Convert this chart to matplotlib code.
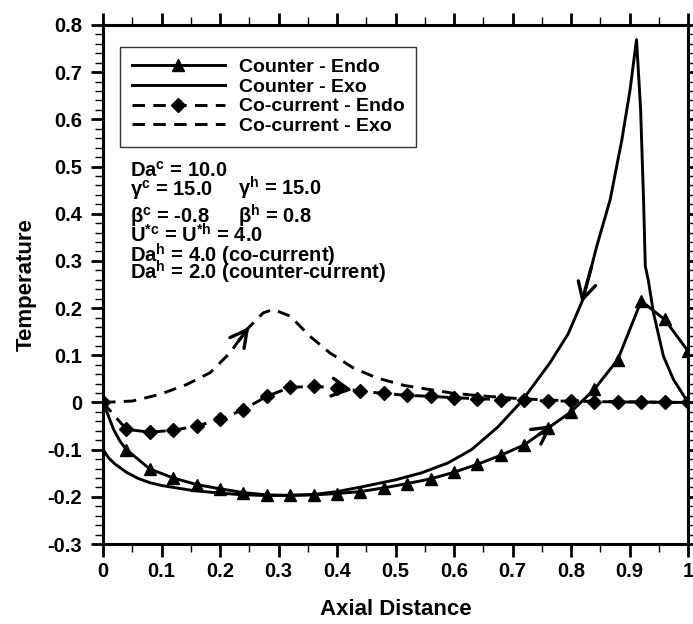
import numpy as np
import matplotlib
matplotlib.use("Agg")
import matplotlib.pyplot as plt
from matplotlib.ticker import MultipleLocator, FuncFormatter

plt.rcParams['font.family'] = ['Liberation Sans', 'DejaVu Sans']
plt.rcParams['font.weight'] = 'bold'
plt.rcParams['mathtext.fontset'] = 'custom'
plt.rcParams['mathtext.rm'] = 'Liberation Sans:bold'
plt.rcParams['mathtext.it'] = 'Liberation Sans:bold'
plt.rcParams['mathtext.bf'] = 'Liberation Sans:bold'
plt.rcParams['lines.scale_dashes'] = False

# ---- data -------------------------------------------------------------
# Counter-current, endothermic (solid with triangles)
counter_endo_x = [0.0, 0.005, 0.018, 0.029, 0.04, 0.08, 0.12, 0.16, 0.20, 0.24,
                  0.28, 0.32, 0.36, 0.40, 0.44, 0.48, 0.52, 0.56, 0.60, 0.64,
                  0.68, 0.72, 0.76, 0.80, 0.84, 0.88, 0.92, 0.96, 1.00]
counter_endo_y = [0.0, -0.015, -0.057, -0.082, -0.100, -0.141, -0.160, -0.174, -0.183, -0.191,
                  -0.196, -0.197, -0.196, -0.193, -0.189, -0.181, -0.172, -0.162, -0.148, -0.131,
                  -0.112, -0.090, -0.055, -0.020, 0.028, 0.091, 0.215, 0.176, 0.109]

# Counter-current, exothermic (solid)
counter_exo_x = [0.000, 0.010, 0.020, 0.040, 0.060, 0.080, 0.100, 0.125, 0.150, 0.190,
                 0.230, 0.270, 0.310, 0.360, 0.400, 0.450, 0.500, 0.545, 0.590, 0.630,
                 0.675, 0.716, 0.764, 0.795, 0.821, 0.844, 0.867, 0.887, 0.901, 0.912,
                 0.919, 0.924, 0.927, 0.932, 0.941, 0.958, 0.975, 1.000]
counter_exo_y = [-0.100, -0.118, -0.130, -0.148, -0.161, -0.170, -0.176, -0.181, -0.186, -0.191,
                 -0.195, -0.197, -0.197, -0.195, -0.189, -0.177, -0.164, -0.149, -0.128, -0.100,
                 -0.052, 0.003, 0.084, 0.145, 0.220, 0.331, 0.430, 0.557, 0.663, 0.769,
                 0.621, 0.430, 0.289, 0.260, 0.190, 0.098, 0.049, 0.000]

# Co-current, endothermic (dashed with diamonds)
co_endo_x = [0.00, 0.04, 0.08, 0.12, 0.16, 0.20, 0.24, 0.28, 0.32, 0.36, 0.40, 0.44, 0.48,
             0.52, 0.56, 0.60, 0.64, 0.68, 0.72, 0.76, 0.80, 0.84, 0.88, 0.92, 0.96, 1.00]
co_endo_y = [0.000, -0.057, -0.063, -0.059, -0.050, -0.036, -0.015, 0.013, 0.032, 0.034,
             0.031, 0.024, 0.019, 0.015, 0.013, 0.010, 0.008, 0.006, 0.005, 0.003,
             0.003, 0.002, 0.001, 0.001, 0.000, 0.000]

# Co-current, exothermic (dashed)
co_exo_x = [0.000, 0.050, 0.097, 0.143, 0.183, 0.217, 0.246, 0.274, 0.291, 0.320,
            0.354, 0.388, 0.428, 0.468, 0.515, 0.550, 0.596, 0.636, 0.700, 0.760,
            0.850, 0.920, 1.000]
co_exo_y = [0.000, 0.003, 0.017, 0.038, 0.063, 0.105, 0.155, 0.190, 0.197, 0.183,
            0.140, 0.105, 0.073, 0.052, 0.036, 0.029, 0.020, 0.015, 0.009, 0.005,
            0.002, 0.001, 0.000]

legend_labels = ["Counter - Endo", "Counter - Exo", "Co-current - Endo", "Co-current - Exo"]

param_lines = [
    ("Da$^{c}$ = 10.0", None),
    ("\u03b3$^{c}$ = 15.0", "\u03b3$^{h}$ = 15.0"),
    ("\u03b2$^{c}$ = -0.8", "\u03b2$^{h}$ = 0.8"),
    ("U$^{*c}$ = U$^{*h}$ = 4.0", None),
    ("Da$^{h}$ = 4.0 (co-current)", None),
    ("Da$^{h}$ = 2.0 (counter-current)", None),
]

# ---- figure -----------------------------------------------------------
W, H = 693, 624
fig = plt.figure(figsize=(W / 100, H / 100), dpi=100)
ax = fig.add_axes([103 / W, 80 / H, 585 / W, 519 / H])

LW = 2.1
DASH = (0, (9.0, 6.0))

ce_marks = [i for i, x in enumerate(counter_endo_x) if i >= 4]
ax.plot(counter_endo_x, counter_endo_y, color='black', lw=LW, marker='^', ms=8.5,
        markevery=ce_marks, label=legend_labels[0])
ax.plot(counter_exo_x, counter_exo_y, color='black', lw=LW, label=legend_labels[1])
ax.plot(co_endo_x, co_endo_y, color='black', lw=LW, linestyle=DASH, marker='D', ms=7.5,
        label=legend_labels[2])
ax.plot(co_exo_x, co_exo_y, color='black', lw=LW, linestyle=DASH, label=legend_labels[3])


def flow_arrow(xs, ys, x_tail, x_tip):
    yt = np.interp(x_tail, xs, ys)
    yh = np.interp(x_tip, xs, ys)
    ax.annotate('', xy=(x_tip, yh), xytext=(x_tail, yt),
                arrowprops=dict(arrowstyle='->,head_length=0.6,head_width=0.32',
                                color='black', lw=2.4, mutation_scale=20,
                                shrinkA=0, shrinkB=0))


flow_arrow(counter_exo_x, counter_exo_y, 0.835, 0.818)
flow_arrow(counter_endo_x, counter_endo_y, 0.745, 0.768)
flow_arrow(co_exo_x, co_exo_y, 0.232, 0.250)
flow_arrow(co_endo_x, co_endo_y, 0.400, 0.426)

ax.set_xlim(0, 1)
ax.set_ylim(-0.3, 0.8)
ax.xaxis.set_major_locator(MultipleLocator(0.1))
ax.xaxis.set_minor_locator(MultipleLocator(0.05))
ax.yaxis.set_major_locator(MultipleLocator(0.1))
ax.yaxis.set_minor_locator(MultipleLocator(0.02))
fmt = FuncFormatter(lambda v, p: "%g" % round(v, 3) if abs(v) > 1e-9 else "0")
ax.xaxis.set_major_formatter(fmt)
ax.yaxis.set_major_formatter(fmt)

for s in ax.spines.values():
    s.set_linewidth(2.2)

ax.tick_params(which='major', direction='out', length=9, width=2.0, labelsize=14.5,
               top=True, right=True)
ax.tick_params(which='minor', direction='out', length=5.5, width=1.0, top=True, right=True)
ax.tick_params(axis='y', which='both', right=True, length=4)
ax.tick_params(axis='y', which='major', left=True, length=9)
ax.tick_params(axis='y', which='minor', left=True, length=5.5)
ax.tick_params(axis='x', which='major', pad=4)
ax.tick_params(axis='y', which='major', pad=6)
for lab in ax.get_xticklabels() + ax.get_yticklabels():
    lab.set_fontweight('bold')

ax.set_xlabel("Axial Distance", fontsize=16, fontweight='bold', labelpad=13)
ax.set_ylabel("Temperature", fontsize=16, fontweight='bold', labelpad=8)

leg = ax.legend(loc='upper left', bbox_to_anchor=(17 / 585, (544 - 47) / 519),
                borderaxespad=0, handlelength=4.8, handletextpad=0.7,
                labelspacing=0.1, borderpad=0.6, fancybox=False, frameon=True,
                prop={'weight': 'bold', 'size': 14})
leg.get_frame().set_edgecolor('black')
leg.get_frame().set_linewidth(1.0)

# parameter block (baselines in pixels from the top)
row_base = [177, 196, 223, 243, 262, 280]
for (left, right), py in zip(param_lines, row_base):
    fig.text(130 / W, 1 - py / H, left, fontsize=14.5, fontweight='bold',
             va='baseline', ha='left')
    if right:
        fig.text(238 / W, 1 - py / H, right, fontsize=14.5, fontweight='bold',
                 va='baseline', ha='left')

fig.savefig("out.png", dpi=100)
